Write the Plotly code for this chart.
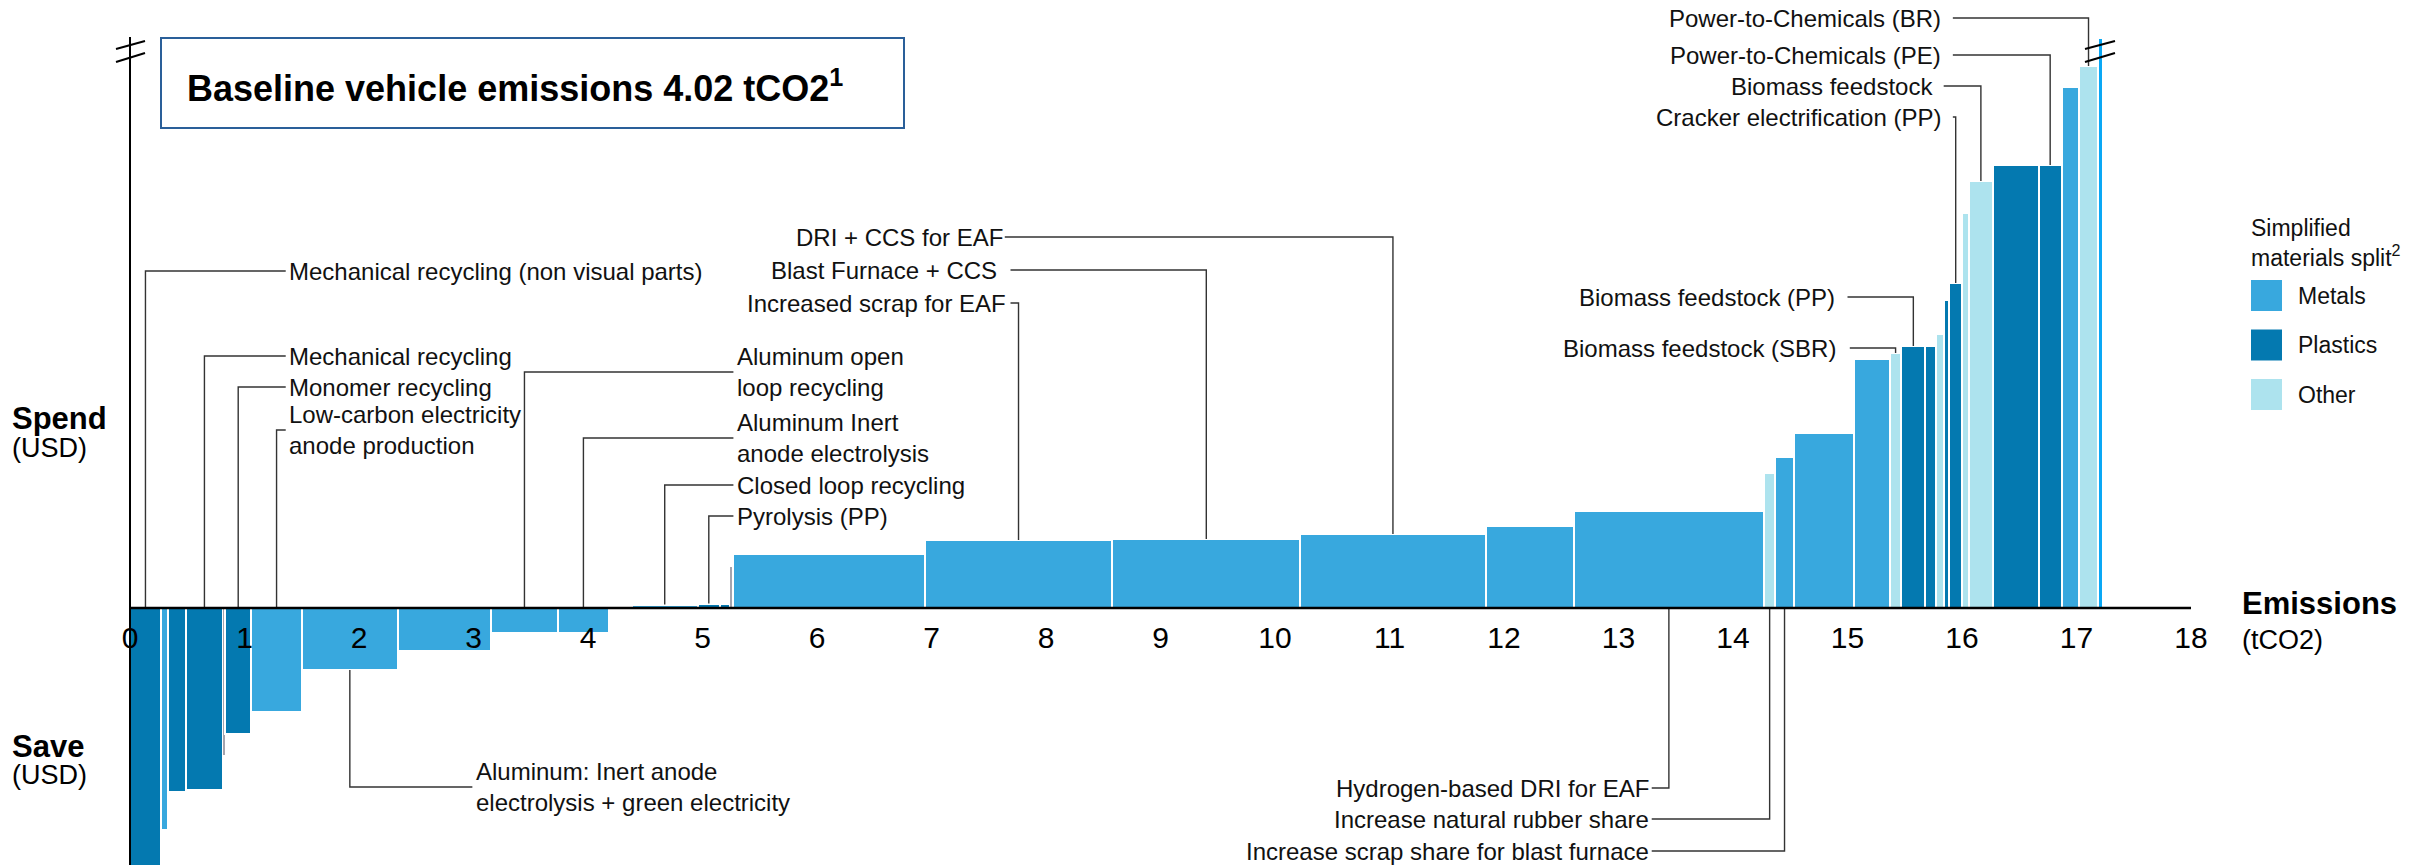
import plotly.graph_objects as go

# ---------------- data ----------------
# abatement of each lever (tCO2) in merit order, cost of each lever (USD, relative scale)
lever_width = [0.27, 0.06, 0.16, 0.32, 0.02, 0.23, 0.44, 0.84, 0.81, 0.59, 0.44, 0.20,
               0.58, 0.19, 0.09, 0.03, 1.67, 1.64, 1.64, 1.62, 0.77, 1.66,
               0.10, 0.16, 0.53, 0.31, 0.10, 0.21, 0.09, 0.07, 0.05, 0.11, 0.06, 0.21,
               0.40, 0.20, 0.15, 0.17, 0.04]
lever_cost = [-300, -222, -184, -182, -147, -126, -104, -62, -43, -25, -25, 0,
              3.5, 4.5, 4.5, 41, 54, 68, 69, 74, 82, 97,
              135, 151, 175, 249, 255, 262, 262, 274, 308, 325, 395, 427,
              443, 443, 521, 542, 570]
lever_material = ["Plastics", "Metals", "Plastics", "Plastics", "Unassigned", "Plastics",
                  "Metals", "Metals", "Metals", "Metals", "Metals", "None",
                  "Metals", "Plastics", "Plastics", "Unassigned", "Metals", "Metals",
                  "Metals", "Metals", "Metals", "Metals",
                  "Other", "Metals", "Metals", "Metals", "Other", "Plastics", "Plastics",
                  "Other", "Plastics", "Plastics", "Other", "Other", "Plastics", "Plastics",
                  "Metals", "Other", "Highlight"]

tick_vals = list(range(0, 19))
tick_text = [str(v) for v in tick_vals]

legend_items = ["Metals", "Plastics", "Other"]

# callouts: text, lever index
callout_text = [
    "Mechanical recycling (non visual parts)", "Mechanical recycling", "Monomer recycling",
    "Low-carbon electricity<br>anode production", "Aluminum open<br>loop recycling",
    "Aluminum Inert<br>anode electrolysis", "Closed loop recycling", "Pyrolysis (PP)",
    "DRI + CCS for EAF", "Blast Furnace + CCS", "Increased scrap for EAF",
    "Biomass feedstock (PP)", "Biomass feedstock (SBR)", "Cracker electrification (PP)",
    "Biomass feedstock", "Power-to-Chemicals (PE)", "Power-to-Chemicals (BR)",
    "Aluminum: Inert anode<br>electrolysis + green electricity",
    "Hydrogen-based DRI for EAF", "Increase natural rubber share",
    "Increase scrap share for blast furnace",
]
callout_lever = [0, 3, 5, 6, 9, 10, 12, 13, 19, 18, 17, 27, 26, 31, 33, 35, 37, 7, 21, 22, 23]

# ---------------- layout / style ----------------
W, H = 2422, 865
FONT = "Arial, Liberation Sans, sans-serif"
colors = {"Metals": "#38A8DE", "Plastics": "#0479B0", "Other": "#ADE3EE",
          "Unassigned": "#A4A4AE", "Highlight": "#0AA8F5", "None": "rgba(0,0,0,0)"}

X0_PX, X_SCALE = 130, 114.5       # pixel of x=0, pixels per tCO2
AXIS_PX = 608                     # pixel row of cost = 0
x_range = [-X0_PX / X_SCALE, (W - X0_PX) / X_SCALE]
y_range = [AXIS_PX - H, AXIS_PX]

# callout geometry: (elbow y, end of horizontal leader, text x, text anchor)
callout_geom = [
    (337, 1.36, 1.37, "left"), (252, 1.36, 1.37, "left"), (221, 1.36, 1.37, "left"),
    (178, 1.36, 1.37, "left"), (236, 5.27, 5.28, "left"), (170, 5.27, 5.28, "left"),
    (123, 5.27, 5.28, "left"), (92, 5.27, 5.28, "left"),
    (371, 7.64, 7.64, "right"), (338, 7.69, 7.59, "right"), (305, 7.69, 7.67, "right"),
    (311, 15.00, 14.91, "right"), (260, 15.02, 14.92, "right"), (491, 15.92, 15.83, "right"),
    (522, 15.84, 15.76, "right"), (553, 15.92, 15.83, "right"), (590, 15.92, 15.83, "right"),
    (-179, 2.99, 3.00, "left"),
    (-180, 13.29, 13.28, "right"), (-211, 13.29, 13.28, "right"), (-243, 13.29, 13.28, "right"),
]


def px(xp):
    return xp / W


def py(yp):
    return 1 - yp / H


# bar positions from cumulative abatement
starts = []
acc = 0.0
for w in lever_width:
    starts.append(acc)
    acc += w
centers = [s + w / 2 for s, w in zip(starts, lever_width)]

fig = go.Figure()
fig.add_trace(go.Bar(
    x=centers, y=lever_cost, width=lever_width,
    marker=dict(color=[colors[m] for m in lever_material],
                line=dict(color="white",
                          width=[0 if (w < 0.04 or m == "Unassigned") else 2
                                 for w, m in zip(lever_width, lever_material)])),
    showlegend=False, hoverinfo="skip"))

# leader lines
lx, ly = [], []
annotations = []
for text, idx, (ey, lend, tx, anchor) in zip(callout_text, callout_lever, callout_geom):
    cost = lever_cost[idx]
    cx = centers[idx]
    if (ey > 0 and cost > 0) or (ey < 0 and cost < 0):
        base = cost
    else:
        base = 0
    lx += [cx, cx, lend, None]
    ly += [base, ey, ey, None]
    annotations.append(dict(x=tx, y=ey, xref="x", yref="y", text=text, showarrow=False,
                            xanchor=anchor, yanchor="middle", align="left",
                            font=dict(family=FONT, size=24, color="#111")))

fig.add_trace(go.Scatter(x=lx, y=ly, mode="lines", line=dict(color="#333", width=1.4),
                         showlegend=False, hoverinfo="skip"))

shapes = []
# axis lines
shapes.append(dict(type="line", xref="x", yref="y", x0=0, x1=18, y0=0, y1=0,
                   line=dict(color="black", width=2.5), layer="above"))
shapes.append(dict(type="line", xref="x", yref="y", x0=0, x1=0, y0=y_range[0], y1=AXIS_PX - 37,
                   line=dict(color="black", width=2), layer="above"))
# axis break marks
for xa, xb in [(116, 145), (2085, 2115)]:
    for ya, yb in [(49, 41), (62, 53)]:
        shapes.append(dict(type="line", xref="paper", yref="paper",
                           x0=px(xa), x1=px(xb), y0=py(ya), y1=py(yb),
                           line=dict(color="black", width=2), layer="above"))
# title box
shapes.append(dict(type="rect", xref="paper", yref="paper", x0=px(161), x1=px(904),
                   y0=py(128), y1=py(38), line=dict(color="#2A5F99", width=2),
                   fillcolor="white", layer="above"))
annotations.append(dict(x=px(185), y=py(86), xref="paper", yref="paper",
                        text="<b>Baseline vehicle emissions 4.02 tCO2<sup>1</sup></b>",
                        showarrow=False, xanchor="left", yanchor="middle",
                        font=dict(family=FONT, size=36, color="black")))

# axis titles
for text, yp, bold in [("Spend", 419, True), ("(USD)", 448, False),
                       ("Save", 746, True), ("(USD)", 775, False)]:
    annotations.append(dict(x=px(10), y=py(yp), xref="paper", yref="paper",
                            text=f"<b>{text}</b>" if bold else text, showarrow=False,
                            xanchor="left", yanchor="middle",
                            font=dict(family=FONT, size=31 if bold else 27, color="black")))
annotations.append(dict(x=px(2240), y=py(603), xref="paper", yref="paper", text="<b>Emissions</b>",
                        showarrow=False, xanchor="left", yanchor="middle",
                        font=dict(family=FONT, size=31, color="black")))
annotations.append(dict(x=px(2240), y=py(640), xref="paper", yref="paper", text="(tCO2)",
                        showarrow=False, xanchor="left", yanchor="middle",
                        font=dict(family=FONT, size=27, color="black")))

# legend
annotations.append(dict(x=px(2249), y=py(243), xref="paper", yref="paper",
                        text="Simplified<br>materials split<sup>2</sup>", showarrow=False,
                        xanchor="left", yanchor="middle", align="left",
                        font=dict(family=FONT, size=23, color="#111")))
for i, name in enumerate(legend_items):
    top = 280 + i * 49.5
    shapes.append(dict(type="rect", xref="paper", yref="paper", x0=px(2251), x1=px(2282),
                       y0=py(top + 31), y1=py(top), fillcolor=colors[name],
                       line=dict(width=0)))
    annotations.append(dict(x=px(2296), y=py(top + 15.5), xref="paper", yref="paper",
                            text=name, showarrow=False, xanchor="left", yanchor="middle",
                            font=dict(family=FONT, size=23, color="#111")))

fig.update_layout(
    width=W, height=H, margin=dict(l=0, r=0, t=0, b=0),
    paper_bgcolor="white", plot_bgcolor="white",
    bargap=0, shapes=shapes, annotations=annotations,
    xaxis=dict(range=x_range, tickvals=tick_vals, ticktext=tick_text, showgrid=False,
               zeroline=False, showline=False, ticks="", anchor="free",
               position=1 - AXIS_PX / H, ticklabelstandoff=9,
               tickfont=dict(family=FONT, size=30, color="black"),
               fixedrange=True),
    yaxis=dict(range=y_range, visible=False, fixedrange=True),
    showlegend=False,
)

fig.write_html("out.html")
